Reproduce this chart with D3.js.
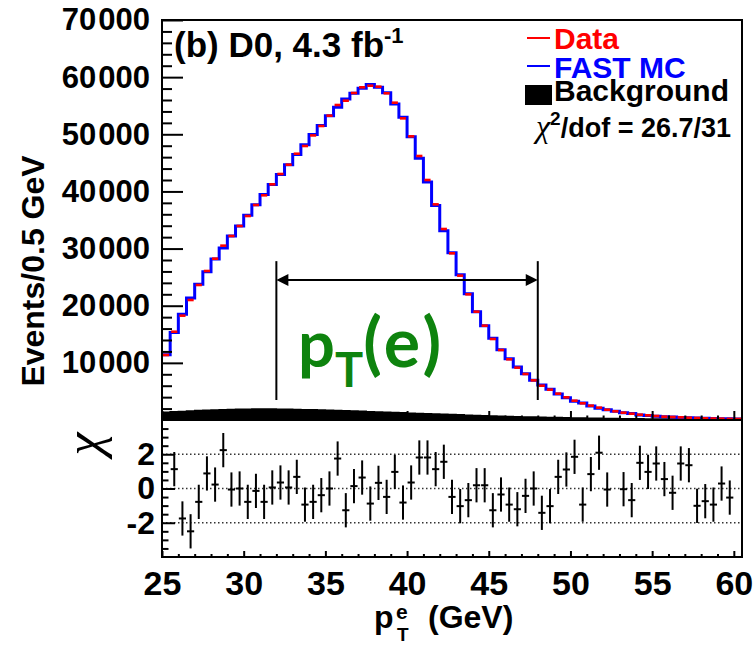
<!DOCTYPE html>
<html><head><meta charset="utf-8">
<script src="https://cdn.jsdelivr.net/npm/d3@7"></script>
<style>
body{margin:0;background:#fff}
svg{display:block;background:#fff}
text{font-family:"Liberation Sans",Arial,Helvetica,sans-serif;font-weight:bold}
</style>
</head><body>
<svg id="chart" width="756" height="651"></svg>
<script>
// ---------------- data ----------------
const binWidth = 0.5;
const binLowEdges = [25,25.5,26,26.5,27,27.5,28,28.5,29,29.5,30,30.5,31,31.5,32,32.5,33,33.5,34,34.5,
  35,35.5,36,36.5,37,37.5,38,38.5,39,39.5,40,40.5,41,41.5,42,42.5,43,43.5,44,44.5,
  45,45.5,46,46.5,47,47.5,48,48.5,49,49.5,50,50.5,51,51.5,52,52.5,53,53.5,54,54.5,
  55,55.5,56,56.5,57,57.5,58,58.5,59,59.5,60];
const dataCounts = [11375,15450,18260,21000,23625,26075,28230,30510,32200,33950,
  35700,37625,39320,41240,43050,44680,46600,47950,49800,51450,
  53260,55125,55880,57225,58220,58500,58330,57170,55530,52790,
  49640,46200,42000,37740,33425,29170,25260,21990,18960,16510,
  14175,12250,10620,9160,8050,6940,6000,5310,4610,3970,
  3380,2920,2510,2160,1800,1520,1280,1100,930,820,
  700,580,525,470,400,350,300,260,230,200,180];
const mcCounts = [11400,15310,18495,21360,23745,25935,28190,30120,32210,33950,
  35850,37650,39475,41230,42980,44690,46450,48155,49975,51540,
  53260,54715,56180,57190,58065,58710,58250,57285,55300,52980,
  49560,45810,41630,37520,33140,29255,25425,22090,18935,16485,
  14325,12290,10715,9275,8090,6940,6110,5385,4565,3900,
  3275,2970,2470,2065,1805,1520,1280,1125,885,790,
  660,565,530,440,375,370,315,275,225,210,180];
const bkgCounts = [1350,1430,1500,1580,1650,1700,1750,1800,1850,1870,
  1890,1905,1920,1910,1900,1880,1850,1815,1780,1740,
  1700,1655,1610,1565,1520,1465,1410,1355,1300,1250,
  1200,1150,1100,1050,1000,950,900,850,800,750,
  700,660,620,580,540,510,480,450,420,395,
  370,345,320,300,280,260,240,225,210,195,
  180,167,155,142,130,122,115,107,100,92,85];
const chiValues = [null,1.13,-1.75,-2.5,-0.78,0.88,0.23,2.24,-0.06,0,
  -0.78,-0.14,-0.78,0.06,0.35,0.06,0.68,-0.94,-0.78,-0.39,
  0,1.75,-1.27,0.14,0.64,-0.88,0.33,-0.49,0.97,-0.82,
  0.35,1.81,1.81,1.13,1.56,-0.49,-1.03,-0.68,0.19,0.19,
  -1.27,-0.35,-0.94,-1.21,-0.43,0,-1.42,-1.03,0.68,1.11,
  1.85,-0.94,0.84,2.09,-0.06,null,-0.04,-0.68,1.50,0.97,
  1.46,0.55,-0.25,1.46,1.36,-1.01,-0.74,-0.94,0.29,-0.53,null];
const chiError = 1;
const yTickValues = [10000,20000,30000,40000,50000,60000,70000];
const xTickValues = [25,30,35,40,45,50,55,60];
const chiTickValues = [-2,0,2];
const chiGridValues = [-2,0,2];
const fitRange = [32,48];
const fitArrowLevel = 24500, fitLineBottom = 3500, fitLineTop = 27800;
const legendLabels = ["Data","FAST MC","Background"];
const legendColors = ["#ff0000","#0000ff","#000000"];

// ---------------- layout ----------------
const svg = d3.select("#chart");
const L = 162, R = 742, T = 20, MID = 420, B = 557;
const x = d3.scaleLinear().domain([25, 60.5]).range([L, R]);
const y = d3.scaleLinear().domain([0, 70000]).range([MID, T]);
const yc = d3.scaleLinear().domain([-4, 4]).range([B, MID]);

const bins = binLowEdges.map((lo,i)=>({lo, hi: lo+binWidth, data:dataCounts[i], mc:mcCounts[i], bkg:bkgCounts[i], chi:chiValues[i]}));
const stepPts = key => bins.map(b=>[b.lo, b[key]]).concat([[bins[bins.length-1].hi, bins[bins.length-1][key]]]);

const defs = svg.append("defs");
defs.append("clipPath").attr("id","clipTop").append("rect").attr("x",L).attr("y",T).attr("width",R-L).attr("height",MID-T);
defs.append("clipPath").attr("id","clipBot").append("rect").attr("x",L).attr("y",MID).attr("width",R-L).attr("height",B-MID);

const topG = svg.append("g").attr("clip-path","url(#clipTop)");
topG.append("path").datum(stepPts("bkg"))
  .attr("d", d3.area().x(d=>x(d[0])).y0(y(0)).y1(d=>y(d[1])).curve(d3.curveStepAfter))
  .attr("fill","#000").attr("stroke","#000").attr("stroke-width",1.5);
topG.append("path").datum(stepPts("mc"))
  .attr("d", d3.line().x(d=>x(d[0])).y(d=>y(d[1])).curve(d3.curveStepAfter))
  .attr("fill","none").attr("stroke","#0000ff").attr("stroke-width",3);
topG.selectAll("line.data").data(bins).join("line").attr("class","data")
  .attr("x1", d=>x(d.lo)+1).attr("x2", d=>x(d.hi)-1)
  .attr("y1", d=>y(d.data)).attr("y2", d=>y(d.data))
  .attr("stroke","#ff0000").attr("stroke-width",2.6);

// fit range annotation
const ann = svg.append("g").attr("stroke","#000").attr("stroke-width",2);
fitRange.forEach(v=>{
  ann.append("line").attr("x1",x(v)).attr("x2",x(v)).attr("y1",y(fitLineBottom)).attr("y2",y(fitLineTop));
});
ann.append("line").attr("x1",x(fitRange[0])+6).attr("x2",x(fitRange[1])-6).attr("y1",y(fitArrowLevel)).attr("y2",y(fitArrowLevel));
const ay = y(fitArrowLevel);
svg.append("path").attr("d",`M${x(fitRange[0])},${ay}L${x(fitRange[0])+12},${ay-6}L${x(fitRange[0])+12},${ay+6}Z`).attr("fill","#000");
svg.append("path").attr("d",`M${x(fitRange[1])},${ay}L${x(fitRange[1])-12},${ay-6}L${x(fitRange[1])-12},${ay+6}Z`).attr("fill","#000");

// green label
const gl = svg.append("text").attr("x",298).attr("y",367).attr("fill","#0e830e")
  .style("font-family","Lato, 'Open Sans', sans-serif").attr("font-size",65);
gl.append("tspan").text("p");
gl.append("tspan").attr("font-size",47).attr("dy",20).text("T");
gl.append("tspan").attr("dy",-20).attr("font-size",68).attr("letter-spacing",4).text("(e)");

// chi panel
const botG = svg.append("g").attr("clip-path","url(#clipBot)");
botG.selectAll("line.grid").data(chiGridValues).join("line").attr("class","grid")
  .attr("x1",L).attr("x2",R).attr("y1",d=>yc(d)).attr("y2",d=>yc(d))
  .attr("stroke","#333").attr("stroke-width",1.4).attr("stroke-dasharray","1.5,2.5");
const pts = bins.filter(b=>b.chi!==null);
botG.selectAll("line.ev").data(pts).join("line").attr("class","ev")
  .attr("x1",d=>x(d.lo+binWidth/2)).attr("x2",d=>x(d.lo+binWidth/2))
  .attr("y1",d=>yc(d.chi-chiError)).attr("y2",d=>yc(d.chi+chiError))
  .attr("stroke","#000").attr("stroke-width",2);
botG.selectAll("line.eh").data(pts).join("line").attr("class","eh")
  .attr("x1",d=>x(d.lo)+0.5).attr("x2",d=>x(d.hi)-0.5)
  .attr("y1",d=>yc(d.chi)).attr("y2",d=>yc(d.chi))
  .attr("stroke","#000").attr("stroke-width",2);

// ---------------- axes ----------------
function styleAxis(g, size){
  g.select(".domain").remove();
  g.selectAll("line").attr("stroke","#000").attr("stroke-width",2);
  g.attr("font-size",size).attr("font-family",null);
  g.selectAll("text").attr("fill","#000");
}
const minorY = d3.range(2000,70000,2000).filter(v=>v%10000!==0);
svg.append("g").attr("transform",`translate(${L},0)`)
  .call(d3.axisLeft(y).tickValues(minorY).tickSize(-10).tickFormat(""))
  .call(g=>styleAxis(g,10));
const yAx = svg.append("g").attr("transform",`translate(${L},0)`)
  .call(d3.axisLeft(y).tickValues(yTickValues).tickSize(-21).tickPadding(12))
  .call(g=>styleAxis(g,31));
yAx.selectAll("text").each(function(d){
  const t = d3.select(this); t.text(null);
  t.append("tspan").text(Math.floor(d/1000));
  t.append("tspan").attr("dx",2).text("000");
});

const minorX = d3.range(26,61,1).filter(v=>v%5!==0);
[[MID,9,4.5],[B,6,3]].forEach(([yy,maj,mi])=>{
  svg.append("g").attr("transform",`translate(0,${yy})`)
    .call(d3.axisBottom(x).tickValues(minorX).tickSize(-mi).tickFormat(""))
    .call(g=>styleAxis(g,10));
  svg.append("g").attr("transform",`translate(0,${yy})`)
    .call(d3.axisBottom(x).tickValues(xTickValues).tickSize(-maj).tickFormat(""))
    .call(g=>styleAxis(g,10));
});
const xLab = svg.append("g").attr("transform",`translate(0,${B})`)
  .call(d3.axisBottom(x).tickValues(xTickValues).tickSize(0).tickPadding(0).tickFormat(d=>String(d)))
  .call(g=>styleAxis(g,34));
xLab.selectAll("text").attr("y",38).attr("dy",null);

const minorC = d3.range(-3.5,4,0.5).filter(v=>v%2!==0);
svg.append("g").attr("transform",`translate(${L},0)`)
  .call(d3.axisLeft(yc).tickValues(minorC).tickSize(-6.5).tickFormat(""))
  .call(g=>styleAxis(g,10));
svg.append("g").attr("transform",`translate(${L},0)`)
  .call(d3.axisLeft(yc).tickValues(chiTickValues).tickSize(-13).tickPadding(7).tickFormat(d=>String(d)))
  .call(g=>styleAxis(g,32));

// frames
svg.append("rect").attr("x",L).attr("y",T).attr("width",R-L).attr("height",MID-T).attr("fill","none").attr("stroke","#000").attr("stroke-width",2);
svg.append("rect").attr("x",L).attr("y",MID).attr("width",R-L).attr("height",B-MID).attr("fill","none").attr("stroke","#000").attr("stroke-width",2);

// ---------------- texts ----------------
const title = svg.append("text").attr("x",174).attr("y",57).attr("font-size",35);
title.append("tspan").text("(b) D0, 4.3 fb");
title.append("tspan").attr("font-size",22).attr("dy",-14).text("-1");

// legend
const lg = svg.append("g");
const legY = [38, 66];
lg.append("line").attr("x1",527).attr("x2",550).attr("y1",legY[0]).attr("y2",legY[0]).attr("stroke",legendColors[0]).attr("stroke-width",2);
lg.append("line").attr("x1",527).attr("x2",550).attr("y1",legY[1]).attr("y2",legY[1]).attr("stroke",legendColors[1]).attr("stroke-width",2);
lg.append("rect").attr("x",525).attr("y",85).attr("width",27).attr("height",20).attr("fill",legendColors[2]);
const legBase = [49, 78, 101];
legendLabels.forEach((s,i)=>{
  lg.append("text").attr("x",554).attr("y",legBase[i]).attr("font-size",30).attr("fill",legendColors[i]).text(s);
});
const chiTxt = svg.append("text").attr("x",536).attr("y",137).attr("font-size",27);
chiTxt.append("tspan").style("font-family","'Liberation Serif','DejaVu Serif',serif").style("font-weight","normal").style("font-style","italic").attr("font-size",32).text("χ");
chiTxt.append("tspan").attr("font-size",19).attr("dy",-12).text("2");
chiTxt.append("tspan").attr("dy",12).text("/dof = 26.7/31");

// axis titles
svg.append("text").attr("transform","translate(44,271) rotate(-90)").attr("text-anchor","middle").attr("font-size",32).text("Events/0.5 GeV");
svg.append("text").attr("transform","translate(95,444) rotate(-90)").attr("text-anchor","middle").attr("dy","0.12em")
  .style("font-family","'Liberation Serif','DejaVu Serif',serif").style("font-weight","normal").style("font-style","italic").attr("font-size",52).text("χ");
const xt = svg.append("g");
xt.append("text").attr("x",374).attr("y",628).attr("font-size",32).text("p");
xt.append("text").attr("x",396).attr("y",619).attr("font-size",21).text("e");
xt.append("text").attr("x",397).attr("y",641).attr("font-size",19).text("T");
xt.append("text").attr("x",428).attr("y",628).attr("font-size",32).text("(GeV)");
</script>
</body></html>
